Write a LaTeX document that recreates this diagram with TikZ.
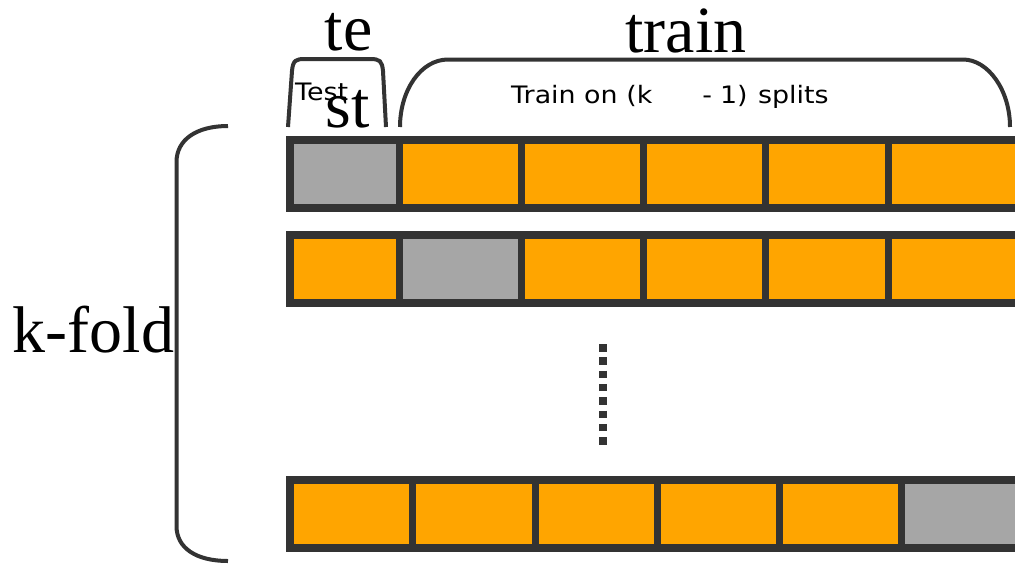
\documentclass[tikz,border=0pt]{standalone}
\usepackage{fontspec}
\setmainfont{Liberation Serif}
\newfontfamily\labelsans[FakeStretch=1.12]{DejaVu Sans}
\definecolor{edgegray}{HTML}{333333}
\definecolor{foldorange}{HTML}{FFA500}
\definecolor{foldgray}{HTML}{A6A6A6}
\begin{document}
\begin{tikzpicture}[x=1pt,y=-1pt,
  cell/.style={draw=edgegray, line width=7.5pt, inner sep=0pt, outer sep=0pt, minimum height=68pt},
  trn/.style={cell, fill=foldorange},
  tst/.style={cell, fill=foldgray},
  brace/.style={draw=edgegray, line width=4pt},
  bigtext/.style={font=\fontsize{66}{79}\selectfont, inner sep=0pt, text height=0.55em, text depth=0.02em},
  smalltext/.style={font=\labelsans\fontsize{24}{28}\selectfont, inner sep=0pt}]
\clip (0,0) rectangle (1015,563);
% row 1
\node[tst, minimum width=109.5pt] (r1c1) at (344.75,174) {};
\node[trn, minimum width=122pt] (r1c2) at (460.5,174) {};
\node[trn, minimum width=122pt] (r1c3) at (582.5,174) {};
\node[trn, minimum width=122pt] (r1c4) at (704.5,174) {};
\node[trn, minimum width=123pt] (r1c5) at (827,174) {};
\node[trn, minimum width=140pt] (r1c6) at (958.5,174) {};
% row 2
\node[trn, minimum width=109.5pt] (r2c1) at (344.75,269) {};
\node[tst, minimum width=122pt] (r2c2) at (460.5,269) {};
\node[trn, minimum width=122pt] (r2c3) at (582.5,269) {};
\node[trn, minimum width=122pt] (r2c4) at (704.5,269) {};
\node[trn, minimum width=123pt] (r2c5) at (827,269) {};
\node[trn, minimum width=140pt] (r2c6) at (958.5,269) {};
% row k
\node[trn, minimum width=122.5pt] (rkc1) at (351.25,514) {};
\node[trn, minimum width=123pt] (rkc2) at (474,514) {};
\node[trn, minimum width=122pt] (rkc3) at (596.5,514) {};
\node[trn, minimum width=122pt] (rkc4) at (718.5,514) {};
\node[trn, minimum width=122pt] (rkc5) at (840.5,514) {};
\node[tst, minimum width=140pt] (rkc6) at (971.5,514) {};
% dots
\coordinate (dtop) at (603,344);
\coordinate (dbot) at (603,448);
\draw[edgegray, line width=7.5pt, dash pattern=on 7.5pt off 5.8pt] (dtop) -- (dbot);
% test brace
\coordinate (tb1) at (288,127);
\coordinate (tb2) at (386,127);
\draw[brace] (tb1) -- (292,71) .. controls (293,60) and (296,59) .. (305,59) -- (370,59) .. controls (380,59) and (382,61) .. (383,71) -- (tb2);
% train brace
\coordinate (rb1) at (400,127);
\coordinate (rb2) at (1010,127);
\draw[brace] (rb1) .. controls (400,90) and (421,59.5) .. (448,59.5) -- (963,59.5) .. controls (988,59.5) and (1010,90) .. (rb2);
% k-fold brace
\coordinate (kb1) at (228,126);
\coordinate (kb2) at (228,561);
\draw[brace] (kb1) .. controls (196,126) and (176.5,140) .. (176.5,162) -- (176.5,526) .. controls (176.5,548) and (196,561) .. (kb2);
% labels
\node[bigtext, anchor=base] (trainlbl) at (686,52) {train};
\node[bigtext, anchor=base] (kfold) at (93.5,352) {k-fold};
\node[bigtext, anchor=base] (te) at (348.5,50) {te};
\node[bigtext, anchor=base] (st) at (348,127) {st};
\node[smalltext, anchor=base west] (testlbl) at (295,100) {Test};
\node[smalltext, anchor=base west] (trainon) at (511,103) {Train on (k\hspace{50pt}-\hspace{8pt}1)\hspace{2pt} splits};
\end{tikzpicture}
\end{document}
